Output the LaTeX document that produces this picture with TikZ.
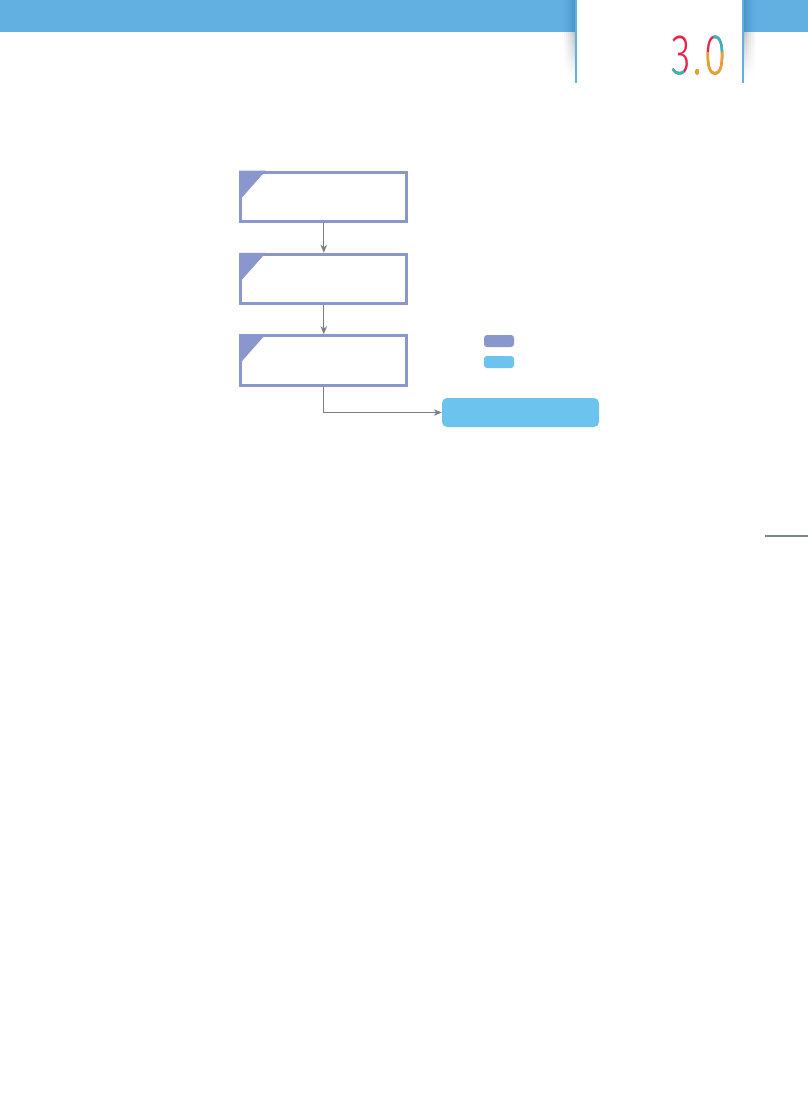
\documentclass[tikz,border=0pt]{standalone}
\usepackage{fontspec}
\usepackage{graphicx}
\newfontfamily\logofont{Fira Sans Light}
\usetikzlibrary{arrows.meta}
\definecolor{barblue}{HTML}{62AFE2}
\definecolor{barblued}{HTML}{4690C6}
\definecolor{boxpurple}{HTML}{8A97CC}
\definecolor{cyanbox}{HTML}{6CC3EE}
\definecolor{arrowgray}{HTML}{7B7F80}
\definecolor{lred}{HTML}{E5244A}
\definecolor{lteal}{HTML}{2DB8C0}
\definecolor{lyellow}{HTML}{E3A723}
\definecolor{rulegray}{HTML}{7A8687}
\newcommand\mylogotext{\scalebox{0.7}[1]{3\kern4.3pt.\kern4.3pt0}}
\begin{document}
\begin{tikzpicture}[x=1pt,y=-1pt,
  stepbox/.style={draw=boxpurple,line width=3pt,fill=white,minimum width=166pt,minimum height=49.5pt,inner sep=0pt},
  flow/.style={draw=arrowgray,line width=1pt,-{Stealth[length=8pt,width=6.5pt,inset=2.5pt]}},
  legendbox/.style={fill=#1,rounded corners=3pt,minimum width=30pt,minimum height=12pt,inner sep=0pt},
  endbox/.style={fill=cyanbox,rounded corners=5pt,minimum width=157pt,minimum height=29pt,inner sep=0pt},
  logo/.style={anchor=base west,inner sep=0pt,font=\logofont\fontsize{57}{57}\selectfont,text=#1}]
\useasboundingbox (0,0) rectangle (808,1106);
\fill[white] (0,0) rectangle (808,1106);
% header bar
\fill[barblue] (0,0) rectangle (808,32);
% darker bar near the tab (strips)
\foreach \i/\p in {0/90,1/70,2/52,3/36,4/22,5/12,6/5}{
  \fill[barblued!\p!barblue] (573.6-2*\i,0) rectangle (576-2*\i,32);
  \fill[barblued!\p!barblue] (743+2*\i,0) rectangle (745.4+2*\i,32);
}
% tab shadows (vertical strips, darker near the tab)
\foreach \i/\k in {0/26,1/20,2/15,3/11,4/7,5/4}{
  \shade[top color=black!\k, bottom color=white] (574-2*\i,32) rectangle (576-2*\i,78);
  \shade[top color=black!\k, bottom color=white] (743+2*\i,32) rectangle (745+2*\i,78);
}
% tab
\fill[white] (576,0) rectangle (743,83);
\draw[barblue, line width=1.2pt] (576,0) -- (576,83) (743,0) -- (743,83);
% logo 3.0
\node[logo=lred] (logo) at (671,74.5) {\mylogotext};
\begin{scope}
  \clip (664,66) rectangle (683,82) (713,28) rectangle (732,52);
  \node[logo=lteal] at (671,74.5) {\mylogotext};
\end{scope}
\begin{scope}
  \clip (692,52) rectangle (732,82);
  \node[logo=lyellow] at (671,74.5) {\mylogotext};
\end{scope}
% flow boxes
\node[stepbox] (b1) at (323.8,196.8) {};
\node[stepbox] (b2) at (323.8,279) {};
\node[stepbox] (b3) at (323.8,360.4) {};
\foreach \b in {b1,b2,b3}
  \fill[boxpurple] (\b.north west) -- ++(26.5,0) -- ++(-26.5,30) -- cycle;
% legend
\node[legendbox=boxpurple] (lg1) at (499,341) {};
\node[legendbox=cyanbox] (lg2) at (499,362) {};
% end box
\node[endbox] (done) at (520.5,412.5) {};
% connectors
\draw[flow] (b1.south) -- (b2.north);
\draw[flow] (b2.south) -- (b3.north);
\draw[flow] (b3.south) |- (done.west);
% right rule
\draw[rulegray, line width=1.2pt] (765,536) -- (808,536);
\end{tikzpicture}
\end{document}
